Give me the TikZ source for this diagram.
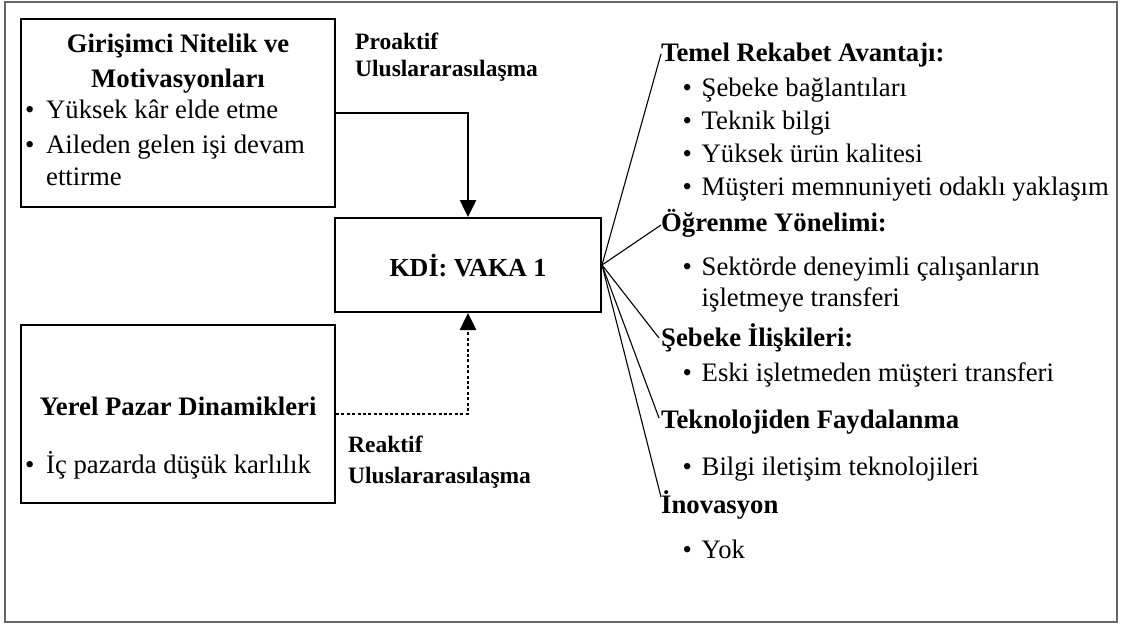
\documentclass[tikz,border=0pt]{standalone}
\usepackage{fontspec}
\setmainfont{LiberationSerif}[Extension=.ttf, UprightFont=*-Regular, BoldFont=*-Bold, ItalicFont=*-Italic, BoldItalicFont=*-BoldItalic]
\usetikzlibrary{arrows.meta}
\newcommand\blt[1]{\makebox[#1][l]{•}}
\begin{document}
\begin{tikzpicture}[x=1pt,y=-1pt,
  box/.style={draw, line width=2pt, rectangle, inner sep=0pt},
  txt/.style={anchor=base west, inner sep=0pt, font=\fontsize{26.7}{32}\selectfont},
  hd/.style={anchor=base west, inner sep=0pt, font=\fontsize{26.7}{32}\selectfont\bfseries},
  ttl/.style={anchor=base, inner sep=0pt, font=\fontsize{26.7}{32}\selectfont\bfseries},
  lbl/.style={anchor=base west, inner sep=0pt, font=\fontsize{23.5}{28}\selectfont\bfseries},
  flow/.style={line width=2.5pt, -{Triangle[length=17pt,width=16pt]}},
  reac/.style={flow, dash pattern=on 3pt off 2.4pt},
  spoke/.style={line width=1.1pt}]
\useasboundingbox (0,0) rectangle (1121,626);

% outer frame
\node[draw=black!60, line width=1.5pt, minimum width=1112pt, minimum height=620pt, inner sep=0pt] (frame) at (561,312) {};

% boxes
\node[box, minimum width=314pt, minimum height=188pt] (girisim) at (178,113) {};
\node[box, minimum width=314pt, minimum height=178pt] (yerel) at (178,414) {};
\node[box, minimum width=266pt, minimum height=94pt] (kdi) at (468,265) {};

% left top box text
\node[ttl] (g1) at (178,52.7) {Girişimci Nitelik ve};
\node[ttl] (g2) at (178,88) {Motivasyonları};
\node[txt] (g3) at (25,118) {\blt{21pt}Yüksek kâr elde etme};
\node[txt] (g4) at (25,153) {\blt{21pt}Aileden gelen işi devam};
\node[txt] (g5) at (46,185) {ettirme};

% left bottom box text
\node[ttl] (y1) at (178,415.8) {Yerel Pazar Dinamikleri};
\node[txt] (y2) at (25,473) {\blt{21pt}İç pazarda düşük karlılık};

% centre
\node[ttl, font=\fontsize{26}{30}\selectfont\bfseries] (k1) at (468,276) {KDİ: VAKA 1};

% path labels
\node[lbl] (p1) at (355,50) {Proaktif};
\node[lbl] (p2) at (355,77) {Uluslararasılaşma};
\node[lbl] (r1) at (348,452.7) {Reaktif};
\node[lbl] (r2) at (348,483) {Uluslararasılaşma};

% connectors into the centre box
\draw[flow] (girisim.east) -| (kdi.north);
\draw[reac] (yerel.east) -| (kdi.south);

% right column
\node[hd] (h1) at (661,61.7) {Temel Rekabet Avantajı:};
\node[txt] (b1) at (682.5,96.7) {\blt{19pt}Şebeke bağlantıları};
\node[txt] (b2) at (682.5,129) {\blt{19pt}Teknik bilgi};
\node[txt] (b3) at (682.5,162.7) {\blt{19pt}Yüksek ürün kalitesi};
\node[txt] (b4) at (682.5,195.7) {\blt{19pt}Müşteri memnuniyeti odaklı yaklaşım};
\node[hd] (h2) at (661,231.7) {Öğrenme Yönelimi:};
\node[txt] (b5) at (682.5,275) {\blt{19pt}Sektörde deneyimli çalışanların};
\node[txt] (b6) at (701.5,306.7) {işletmeye transferi};
\node[hd] (h3) at (661,346.7) {Şebeke İlişkileri:};
\node[txt] (b7) at (682.5,381.7) {\blt{19pt}Eski işletmeden müşteri transferi};
\node[hd] (h4) at (661,428) {Teknolojiden Faydalanma};
\node[txt] (b8) at (682.5,475) {\blt{19pt}Bilgi iletişim teknolojileri};
\node[hd] (h5) at (661,513) {İnovasyon};
\node[txt] (b9) at (682.5,558) {\blt{19pt}Yok};

% spoke ends
\coordinate (e1) at (661,54);
\coordinate (e2) at (661,225);
\coordinate (e3) at (659,338);
\coordinate (e4) at (659,418);
\coordinate (e5) at (661,497);
\foreach \e in {e1,e2,e3,e4,e5} \draw[spoke] (kdi.east) -- (\e);
\end{tikzpicture}
\end{document}
